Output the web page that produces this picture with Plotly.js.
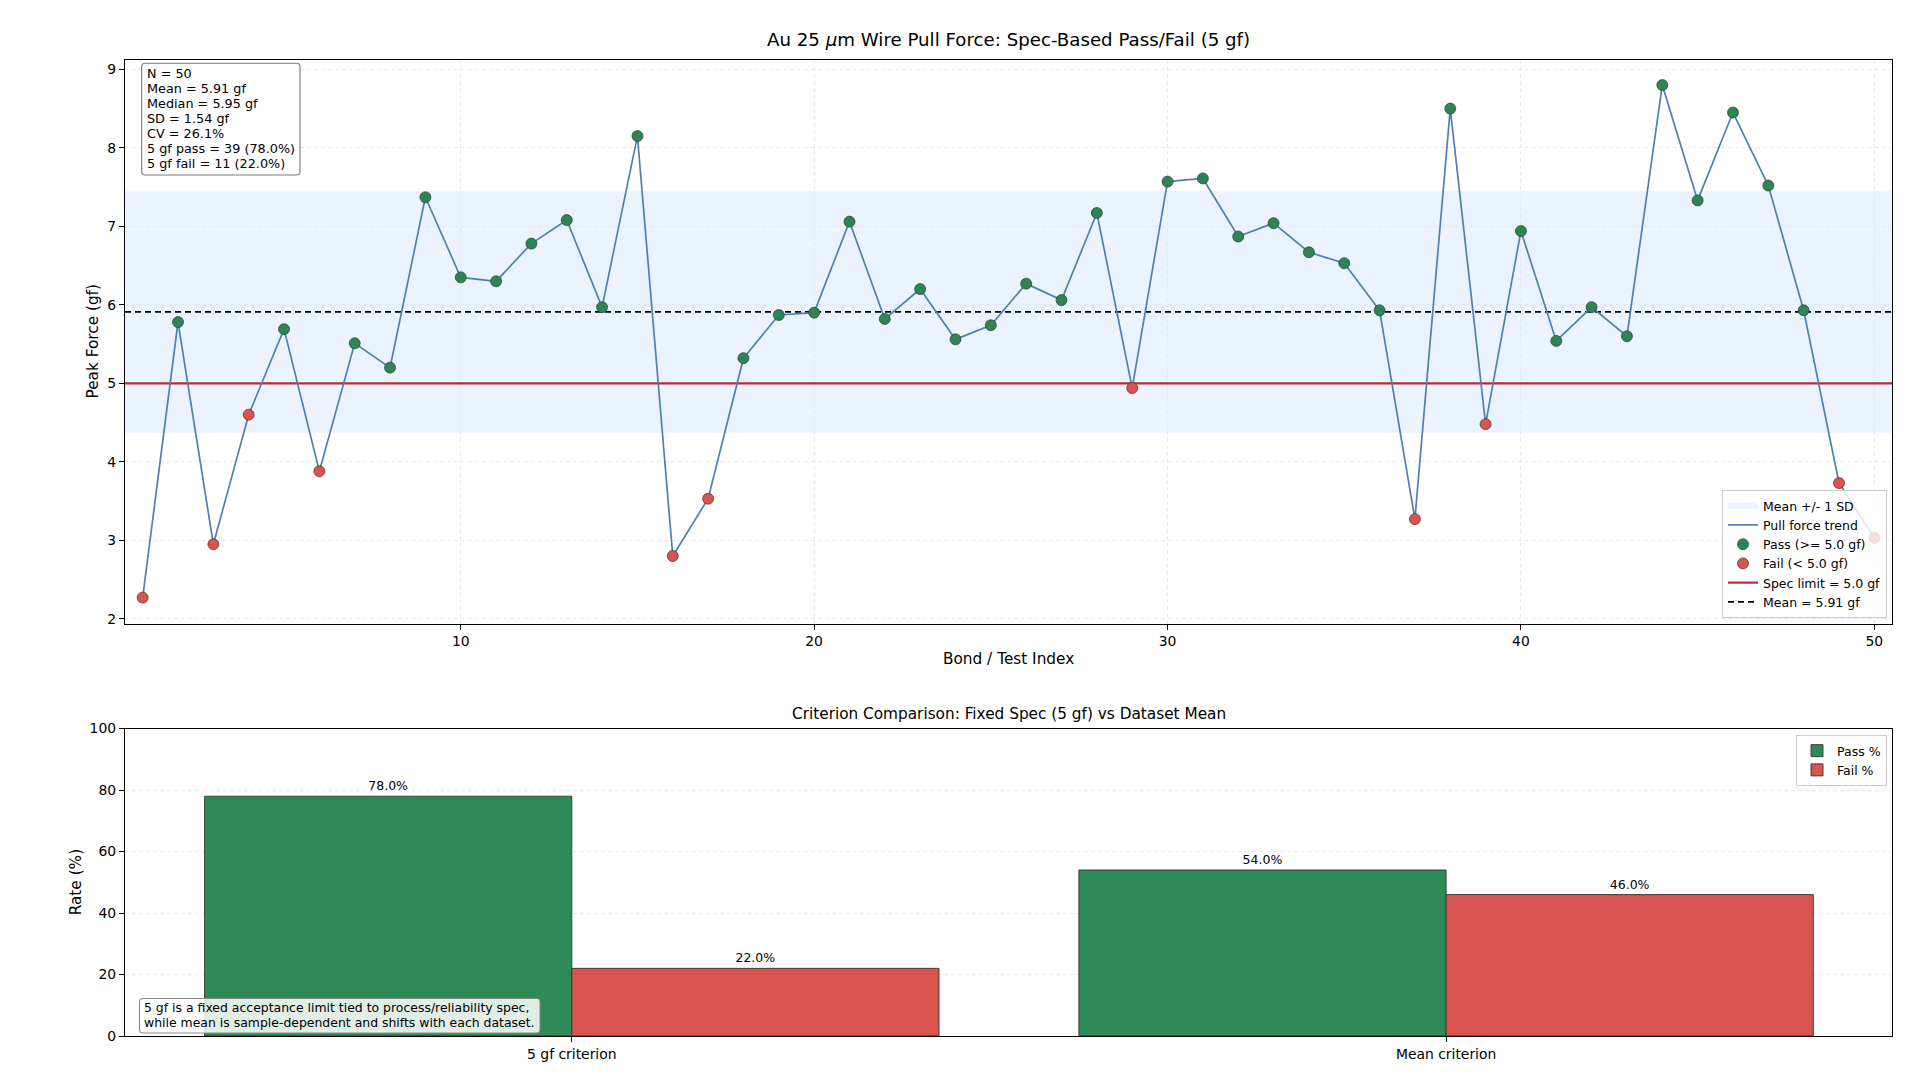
<!DOCTYPE html>
<html>
<head>
<meta charset="utf-8">
<script src="https://cdn.plot.ly/plotly-3.0.1.min.js"></script>
<style>html,body{margin:0;padding:0;background:#fff;}#chart{width:1920px;height:1087px;}</style>
</head>
<body>
<div id="chart"></div>
<script>
// ---- data ----
const bondIndex = [1,2,3,4,5,6,7,8,9,10,11,12,13,14,15,16,17,18,19,20,21,22,23,24,25,26,27,28,29,30,31,32,33,34,35,36,37,38,39,40,41,42,43,44,45,46,47,48,49,50];
const peakForce = [2.27,5.78,2.95,4.60,5.69,3.88,5.51,5.20,7.37,6.35,
                   6.30,6.78,7.08,5.97,8.15,2.80,3.53,5.32,5.87,5.90,
                   7.06,5.82,6.20,5.56,5.74,6.27,6.06,7.17,4.94,7.57,
                   7.61,6.87,7.04,6.67,6.53,5.93,3.27,8.50,4.48,6.94,
                   5.54,5.97,5.60,8.80,7.33,8.45,7.52,5.93,3.73,3.03];
const specLimit = 5.0;
const meanForce = 5.91;
const medianForce = 5.95;
const sdForce = 1.54;
const cvPct = 26.1;
const criteria = ["5 gf criterion", "Mean criterion"];
const passPct = [78.0, 54.0];
const failPct = [22.0, 46.0];
const xTicks = [10,20,30,40,50];
const noteLines = ["5 gf is a fixed acceptance limit tied to process/reliability spec,",
                   "while mean is sample-dependent and shifts with each dataset."];

// ---- derived ----
const passX = [], passY = [], failX = [], failY = [];
bondIndex.forEach((b,i)=>{ if(peakForce[i] >= specLimit){passX.push(b);passY.push(peakForce[i]);} else {failX.push(b);failY.push(peakForce[i]);} });
const nPass = passX.length, nFail = failX.length, N = bondIndex.length;
const xLo = 0.5, xHi = 50.5;

const FONT = "DejaVu Sans, Verdana, sans-serif";
const W = 1920, H = 1087;
const px = v => v / W;
const py = v => (H - v) / H;

function roundRect(x0, y0, x1, y1, r) {
  const rx = r / W, ry = r / H;
  const X0 = px(x0), X1 = px(x1), Y0 = py(y0), Y1 = py(y1);
  return `M ${X0+rx},${Y0} L ${X1-rx},${Y0} Q ${X1},${Y0} ${X1},${Y0-ry} L ${X1},${Y1+ry} Q ${X1},${Y1} ${X1-rx},${Y1} ` +
         `L ${X0+rx},${Y1} Q ${X0},${Y1} ${X0},${Y1+ry} L ${X0},${Y0-ry} Q ${X0},${Y0} ${X0+rx},${Y0} Z`;
}

const traces = [
  {x:[xLo,xHi,xHi,xLo,xLo], y:[meanForce-sdForce,meanForce-sdForce,meanForce+sdForce,meanForce+sdForce,meanForce-sdForce],
   type:'scatter', mode:'none', fill:'toself', fillcolor:'rgba(214,232,255,0.5)', name:'Mean +/- 1 SD',
   legendrank:1, hoverinfo:'skip', xaxis:'x', yaxis:'y'},
  {x:[xLo,xHi], y:[specLimit,specLimit], type:'scatter', mode:'lines', line:{color:'#c0282d', width:2.2},
   name:'Spec limit = 5.0 gf', legendrank:5, xaxis:'x', yaxis:'y'},
  {x:[xLo,xHi], y:[meanForce,meanForce], type:'scatter', mode:'lines', line:{color:'#000000', width:1.8, dash:'6px,4px'},
   name:'Mean = ' + meanForce.toFixed(2) + ' gf', legendrank:6, xaxis:'x', yaxis:'y'},
  {x:bondIndex, y:peakForce, type:'scatter', mode:'lines', line:{color:'#4f7fb3', width:1.7},
   name:'Pull force trend', legendrank:2, xaxis:'x', yaxis:'y'},
  {x:passX, y:passY, type:'scatter', mode:'markers', marker:{color:'#2e8554', size:11, line:{color:'#2b3b33', width:0.7}},
   name:'Pass (>= 5.0 gf)', legendrank:3, xaxis:'x', yaxis:'y'},
  {x:failX, y:failY, type:'scatter', mode:'markers', marker:{color:'#d9534f', size:11, line:{color:'#4a2e2e', width:0.7}},
   name:'Fail (< 5.0 gf)', legendrank:4, xaxis:'x', yaxis:'y'},
  {x:criteria, y:passPct, type:'bar', name:'Pass %', marker:{color:'#2e8b57', line:{color:'#333', width:0.9}},
   text:passPct.map(v=>v.toFixed(1)+'%'), textposition:'outside', textfont:{family:FONT, size:12.5, color:'#000'},
   cliponaxis:false, xaxis:'x2', yaxis:'y2', legend:'legend2'},
  {x:criteria, y:failPct, type:'bar', name:'Fail %', marker:{color:'#d9534f', line:{color:'#333', width:0.9}},
   text:failPct.map(v=>v.toFixed(1)+'%'), textposition:'outside', textfont:{family:FONT, size:12.5, color:'#000'},
   cliponaxis:false, xaxis:'x2', yaxis:'y2', legend:'legend2'}
];

const gridStyle = {showgrid:true, gridcolor:'#e2e2e2', gridwidth:0.8, griddash:'4px,3px'};
const axisCommon = {showline:true, mirror:true, linecolor:'#000', linewidth:1.1, ticks:'outside', ticklen:5, tickwidth:1,
  tickcolor:'#000', tickfont:{family:FONT, size:13.9, color:'#000'}, zeroline:false};

const statsLines = ['N = ' + N, 'Mean = ' + meanForce.toFixed(2) + ' gf', 'Median = ' + medianForce.toFixed(2) + ' gf',
  'SD = ' + sdForce.toFixed(2) + ' gf', 'CV = ' + cvPct.toFixed(1) + '%',
  '5 gf pass = ' + nPass + ' (' + (100*nPass/N).toFixed(1) + '%)', '5 gf fail = ' + nFail + ' (' + (100*nFail/N).toFixed(1) + '%)'];

const annotations = [
  {text:'Au 25 <i>μ</i>m Wire Pull Force: Spec-Based Pass/Fail (5 gf)', xref:'paper', yref:'paper', x:px(1008.5), y:py(39.5),
   xanchor:'center', yanchor:'middle', showarrow:false, font:{family:FONT, size:18.2, color:'#000'}},
  {text:'Peak Force (gf)', xref:'paper', yref:'paper', x:px(92), y:py(341.5), textangle:-90,
   xanchor:'center', yanchor:'middle', showarrow:false, font:{family:FONT, size:15.3, color:'#000'}},
  {text:'Bond / Test Index', xref:'paper', yref:'paper', x:px(1008.5), y:py(659),
   xanchor:'center', yanchor:'middle', showarrow:false, font:{family:FONT, size:15.3, color:'#000'}},
  {text:'Criterion Comparison: Fixed Spec (5 gf) vs Dataset Mean', xref:'paper', yref:'paper', x:px(1008.5), y:py(714),
   xanchor:'center', yanchor:'middle', showarrow:false, font:{family:FONT, size:15.3, color:'#000'}},
  {text:'Rate (%)', xref:'paper', yref:'paper', x:px(76), y:py(882.3), textangle:-90,
   xanchor:'center', yanchor:'middle', showarrow:false, font:{family:FONT, size:15.3, color:'#000'}}
];
statsLines.forEach((t,i)=>annotations.push({text:t, xref:'paper', yref:'paper', x:px(146), y:py(73.5 + 15.05*i),
  xanchor:'left', yanchor:'middle', align:'left', showarrow:false, borderpad:0, font:{family:FONT, size:12.8, color:'#000'}}));
noteLines.forEach((t,i)=>annotations.push({text:t, xref:'paper', yref:'paper', x:px(143), y:py(1007.5 + 15*i),
  xanchor:'left', yanchor:'middle', align:'left', showarrow:false, borderpad:0, font:{family:FONT, size:12.45, color:'#000'}}));

const shapes = [
  {type:'path', xref:'paper', yref:'paper', path:roundRect(141.7, 63.3, 300, 175, 3.5), fillcolor:'#ffffff',
   line:{color:'#7a7a7a', width:1.1}, layer:'above'},
  {type:'path', xref:'paper', yref:'paper', path:roundRect(139.5, 998.5, 540, 1033, 3.5), fillcolor:'rgba(255,255,255,0.85)',
   line:{color:'#8a8a8a', width:1.1}, layer:'above'}
];

const layout = {
  width:W, height:H, margin:{l:0,r:0,t:0,b:0}, paper_bgcolor:'#fff', plot_bgcolor:'#fff',
  font:{family:FONT, color:'#000'},
  barmode:'group', bargap:0.16, bargroupgap:0,
  xaxis:Object.assign({}, axisCommon, gridStyle, {domain:[px(125), px(1892)], anchor:'y', range:[xLo,xHi], tickvals:xTicks}),
  yaxis:Object.assign({}, axisCommon, gridStyle, {domain:[py(623.5), py(60)], anchor:'x', range:[1.94, 9.119], dtick:1, tick0:0}),
  xaxis2:Object.assign({}, axisCommon, {domain:[px(125), px(1892)], anchor:'y2', type:'category', range:[-0.511, 1.51],
    showgrid:false}),
  yaxis2:Object.assign({}, axisCommon, gridStyle, {domain:[py(1036), py(728.6)], anchor:'x2', range:[0,100], dtick:20}),
  legend:{x:px(1887), xanchor:'right', y:py(618), yanchor:'bottom', bgcolor:'rgba(255,255,255,0.8)',
    bordercolor:'#cccccc', borderwidth:1, font:{family:FONT, size:12.5, color:'#000'}, tracegroupgap:0, itemwidth:30},
  legend2:{x:px(1887), xanchor:'right', y:py(735), yanchor:'top', bgcolor:'rgba(255,255,255,0.8)',
    bordercolor:'#cccccc', borderwidth:1, font:{family:FONT, size:12.5, color:'#000'}, itemwidth:30},
  shapes:shapes,
  annotations:annotations
};

Plotly.newPlot('chart', traces, layout, {staticPlot:true, displayModeBar:false});
</script>
</body>
</html>
